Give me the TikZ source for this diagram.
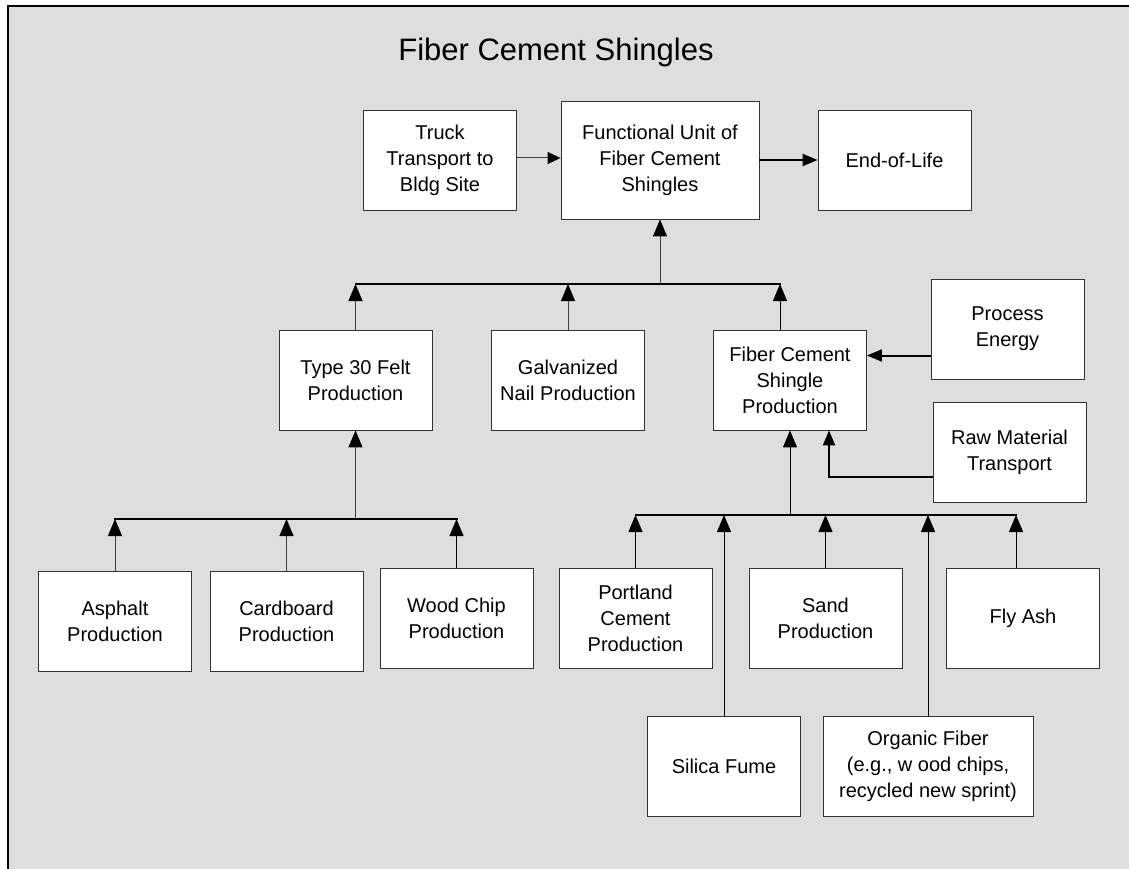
\documentclass[tikz,border=0pt]{standalone}
\usepackage{fontspec}
\setmainfont{Liberation Sans}
\usetikzlibrary{arrows.meta}
\usetikzlibrary{positioning}

\begin{document}
\begin{tikzpicture}[x=1pt, y=-1pt, node distance=220pt, auto]
    % Define styles
    \tikzstyle{box} = [rectangle, draw=black!80, fill=white, line width=0.9pt, text centered, align=center, minimum width=153pt, minimum height=100pt, inner sep=2pt, font=\fontsize{20}{26}\selectfont]
    \tikzstyle{unitbox} = [box, minimum width=198pt, minimum height=118pt]
    \tikzstyle{widebox} = [box, minimum width=210pt]
    \tikzstyle{feed} = [-{Triangle[length=17pt, width=14pt, color=black]}, line width=1pt, draw=black!75]
    \tikzstyle{sidefeed} = [-{Triangle[length=13pt, width=12pt, color=black]}, line width=1pt, draw=black!75]
    \tikzstyle{heavyfeed} = [-{Triangle[length=15pt, width=12pt]}, line width=2pt]
    \tikzstyle{bus} = [line width=2pt, line cap=rect]

    % Frame
    \useasboundingbox (0,0) rectangle (1129,869);
    \fill[black!13] (8,6) rectangle (1135,875);
    \draw[line width=2pt] (8,875) -- (8,6) -- (1135,6);

    % Title
    \node[font=\fontsize{31}{36}\selectfont, anchor=base] (title) at (556,61) {Fiber Cement Shingles};

    % Top row
    \node[unitbox] (func) at (660,160) {Functional Unit of\\Fiber Cement\\Shingles};
    \node[box, left of=func] (truck) {Truck\\Transport to\\Bldg Site};
    \node[box, right of=func, xshift=14.5pt] (eol) {End-of-Life};

    % Middle row
    \node[box, below of=func, xshift=-92pt] (galv) {Galvanized\\Nail Production};
    \node[box, left of=galv, xshift=7.5pt] (felt) {Type 30 Felt\\Production};
    \node[box, right of=galv, xshift=2pt] (fcsp) {Fiber Cement\\Shingle\\Production};
    \node[box, right of=fcsp, xshift=-2.5pt, yshift=51pt] (energy) {Process\\Energy};
    \node[box, right of=fcsp, xshift=-0.5pt, yshift=-72pt] (rawtrans) {Raw Material\\Transport};

    % Felt inputs
    \node[box, below of=felt, xshift=101pt, yshift=-18pt] (woodchip) {Wood Chip\\Production};
    \node[box, left of=woodchip, xshift=50pt, yshift=-3pt] (cardboard) {Cardboard\\Production};
    \node[box, left of=cardboard, xshift=48.5pt] (asphalt) {Asphalt\\Production};

    % Shingle inputs
    \node[box, below of=fcsp, xshift=-154.5pt, yshift=-18pt] (portland) {Portland\\Cement\\Production};
    \node[box, below of=fcsp, xshift=35.5pt, yshift=-18pt] (sand) {Sand\\Production};
    \node[box, right of=sand, xshift=-22.5pt] (flyash) {Fly Ash};
    \node[box, below of=portland, xshift=88.5pt, yshift=71.5pt] (silica) {Silica Fume};
    \node[widebox, below of=sand, xshift=102.5pt, yshift=72pt] (organic) {Organic Fiber\\(e.g., w ood chips,\\recycled new sprint)};

    % Bus lines
    \coordinate (topbus) at (0,284);
    \coordinate (leftbus) at (0,519);
    \coordinate (rightbus) at (0,515);
    \coordinate (fcspout) at ([xshift=-10pt]fcsp.north);
    \coordinate (flyout) at ([xshift=-7pt]flyash.north);
    \coordinate (rawin) at ([xshift=39pt]fcsp.south);

    % Relations
    \draw[sidefeed] ([yshift=2pt]truck.east) -- ([yshift=2pt]truck.east -| func.west);
    \draw[heavyfeed] (func.east) -- (eol.west);
    \draw[feed] (func.south |- topbus) -- (func.south);

    \draw[bus] (felt.north |- topbus) -- (fcspout |- topbus);
    \draw[feed] (felt.north) -- (felt.north |- topbus);
    \draw[feed] (galv.north) -- (galv.north |- topbus);
    \draw[feed, draw=black] (fcspout) -- (fcspout |- topbus);

    \draw[heavyfeed] ([yshift=-26.5pt]energy.west) -- ([yshift=-26.5pt]energy.west -| fcsp.east);
    \draw[heavyfeed] ([yshift=-25pt]rawtrans.west) -| (rawin);

    \draw[feed] (felt.south |- leftbus) -- (felt.south);
    \draw[bus] (asphalt.north |- leftbus) -- (woodchip.north |- leftbus);
    \draw[feed] (asphalt.north) -- (asphalt.north |- leftbus);
    \draw[feed] (cardboard.north) -- (cardboard.north |- leftbus);
    \draw[feed, draw=black] (woodchip.north) -- (woodchip.north |- leftbus);

    \draw[feed, draw=black] (fcsp.south |- rightbus) -- (fcsp.south);
    \draw[bus] (portland.north |- rightbus) -- (flyout |- rightbus);
    \draw[feed, draw=black] (portland.north) -- (portland.north |- rightbus);
    \draw[feed, draw=black] (silica.north) -- (silica.north |- rightbus);
    \draw[feed, draw=black] (sand.north) -- (sand.north |- rightbus);
    \draw[feed, draw=black] (organic.north) -- (organic.north |- rightbus);
    \draw[feed, draw=black] (flyout) -- (flyout |- rightbus);

\end{tikzpicture}
\end{document}
